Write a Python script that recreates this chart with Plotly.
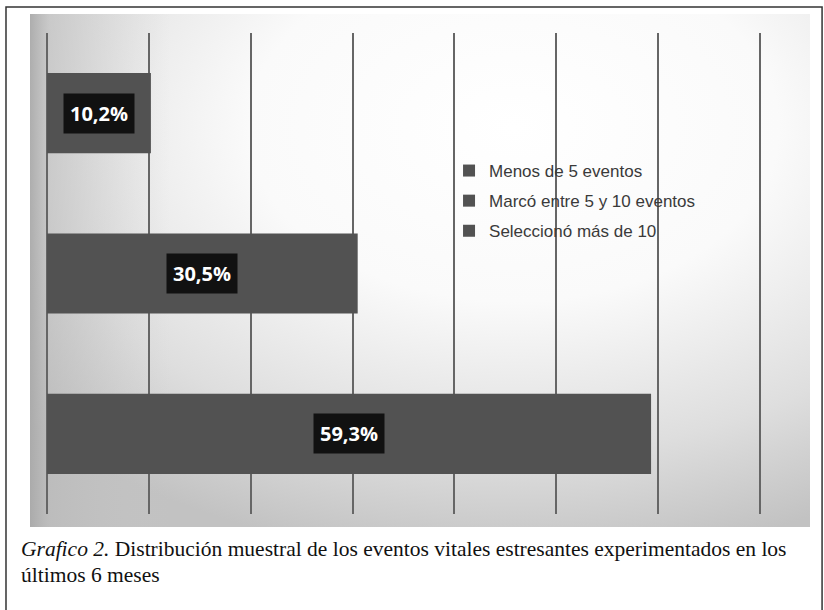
import base64
import plotly.graph_objects as go

# ---- data ----
categories = ["Menos de 5 eventos", "Marcó entre 5 y 10 eventos", "Seleccionó más de 10"]
values = [59.3, 30.5, 10.2]
caption_line1 = "<i>Grafico 2.</i> Distribución muestral de los eventos vitales estresantes experimentados en los"
caption_line2 = "últimos 6 meses"

# ---- layout geometry (pixels) ----
W, H = 824, 610
XMAX = 75
L, T, B = 47, 33, 514
R = L + XMAX * (760 - 47) / 70.0
PW, PH = R - L, B - T


def px(x):
    return (x - L) / PW


def py(y):
    return (B - y) / PH


svg = """<svg xmlns='http://www.w3.org/2000/svg' width='780' height='513' viewBox='0 0 780 513' preserveAspectRatio='none'>
<defs>
<radialGradient id='g' cx='0.62' cy='0.22' r='0.85' fx='0.62' fy='0.22'>
<stop offset='0' stop-color='#ffffff'/>
<stop offset='0.4' stop-color='#fafafa'/>
<stop offset='0.75' stop-color='#dedede'/>
<stop offset='1' stop-color='#c2c2c2'/>
</radialGradient>
<linearGradient id='l' x1='0' y1='0' x2='1' y2='0'>
<stop offset='0' stop-color='#a8a8a8' stop-opacity='0.9'/>
<stop offset='0.025' stop-color='#b8b8b8' stop-opacity='0.55'/>
<stop offset='0.18' stop-color='#c8c8c8' stop-opacity='0'/>
</linearGradient>
</defs>
<rect x='0' y='0' width='780' height='513' fill='url(#g)'/>
<rect x='0' y='0' width='780' height='513' fill='url(#l)'/>
</svg>"""
svg_uri = "data:image/svg+xml;base64," + base64.b64encode(svg.encode("utf-8")).decode("ascii")

fig = go.Figure()
for cat, v in zip(categories, values):
    fig.add_trace(go.Bar(
        x=[v], y=[cat], orientation="h", name=cat, legendgroup=cat,
        width=0.5, marker=dict(color="#525252", line=dict(width=0)),
        hoverinfo="skip",
    ))

annotations = []
for cat, v in zip(categories, values):
    annotations.append(dict(
        x=v / 2, y=cat, xref="x", yref="y",
        text=f"{v:.1f}".replace(".", ",") + "%",
        showarrow=False, bgcolor="#111111", borderpad=6,
        font=dict(family="Open Sans", size=20, color="white", weight="bold"),
    ))

annotations.append(dict(
    x=px(19), y=py(549), xref="paper", yref="paper", xanchor="left", yanchor="middle",
    text=caption_line1, showarrow=False, align="left",
    font=dict(family="Liberation Serif", size=21.5, color="#111111"),
))
annotations.append(dict(
    x=px(19), y=py(575), xref="paper", yref="paper", xanchor="left", yanchor="middle",
    text=caption_line2, showarrow=False, align="left",
    font=dict(family="Liberation Serif", size=21.5, color="#111111"),
))

fig.update_layout(
    width=W, height=H,
    margin=dict(l=L, r=W - R, t=T, b=H - B, pad=0),
    paper_bgcolor="white", plot_bgcolor="rgba(0,0,0,0)",
    barmode="overlay",
    showlegend=True,
    legend=dict(
        x=px(449), y=py(153), xanchor="left", yanchor="top",
        bgcolor="rgba(0,0,0,0)", traceorder="grouped", tracegroupgap=5,
        font=dict(family="Liberation Sans", size=17, color="#3a3a3a"),
    ),
    xaxis=dict(
        range=[0, XMAX], dtick=10, tick0=0, showticklabels=False, ticks="",
        showgrid=True, gridcolor="#666666", gridwidth=2,
        zeroline=True, zerolinecolor="#666666", zerolinewidth=2, showline=False,
        fixedrange=True,
    ),
    yaxis=dict(
        type="category", categoryorder="array", categoryarray=categories,
        range=[-0.5, 2.5], showticklabels=False, ticks="", showgrid=False,
        zeroline=False, showline=False, fixedrange=True,
    ),
    images=[dict(
        source=svg_uri, xref="paper", yref="paper",
        x=px(30), y=py(14), sizex=(810 - 30) / PW, sizey=(527 - 14) / PH,
        xanchor="left", yanchor="top", sizing="stretch", layer="below",
    )],
    shapes=[dict(
        type="rect", xref="paper", yref="paper",
        x0=px(6), x1=px(822), y0=py(640), y1=py(7),
        line=dict(color="#333333", width=1.5), fillcolor="rgba(0,0,0,0)", layer="above",
    )],
    annotations=annotations,
)

fig.write_html("out.html")
